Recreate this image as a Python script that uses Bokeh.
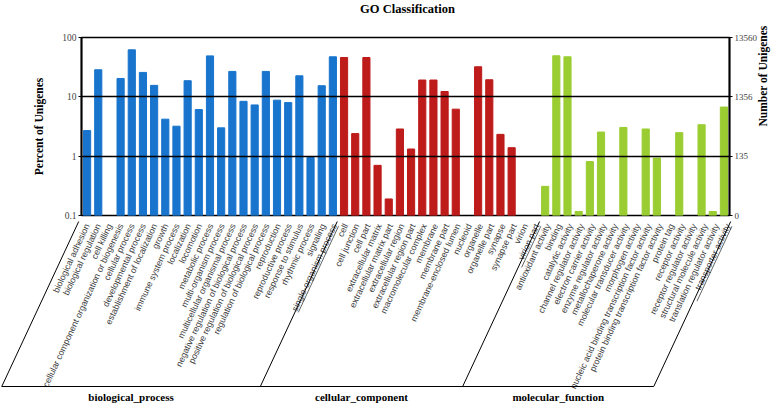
import math
from bokeh.plotting import figure
from bokeh.models import Range1d, LogAxis, FixedTicker, ColumnDataSource
from bokeh.core.properties import value
from bokeh.embed import file_html
from bokeh.resources import INLINE

# ---------------- data ----------------
title_text = "GO Classification"

bp_terms = ["biological adhesion", "biological regulation", "cell killing",
            "cellular component organization or biogenesis", "cellular process",
            "developmental process", "establishment of localization", "growth",
            "immune system process", "localization", "locomotion", "metabolic process",
            "multi-organism process", "multicellular organismal process",
            "negative regulation of biological process",
            "positive regulation of biological process",
            "regulation of biological process", "reproduction", "reproductive process",
            "response to stimulus", "rhythmic process", "signaling",
            "single-organism process"]
bp_values = [2.7, 28.6, 0, 20.4, 62.0, 25.8, 15.6, 4.2, 3.2, 18.7, 6.1, 49.0,
             3.0, 26.8, 8.4, 7.3, 26.8, 8.8, 8.0, 22.6, 0.95, 15.4, 47.3]

cc_terms = ["cell", "cell junction", "cell part", "extracellular matrix",
            "extracellular matrix part", "extracellular region",
            "extracellular region part", "macromolecular complex", "membrane",
            "membrane part", "membrane-enclosed lumen", "nucleoid", "organelle",
            "organelle part", "synapse", "synapse part", "virion", "virion part"]
cc_values = [46.0, 2.4, 46.0, 0.70, 0.19, 2.87, 1.32, 19.2, 19.2, 12.3, 6.2, 0,
             32.1, 19.4, 2.33, 1.39, 0, 0]

mf_terms = ["antioxidant activity", "binding", "catalytic activity",
            "channel regulator activity", "electron carrier activity",
            "enzyme regulator activity", "metallochaperone activity",
            "molecular transducer activity", "morphogen activity",
            "nucleic acid binding transcription factor activity",
            "protein binding transcription factor activity", "protein tag",
            "receptor activity", "receptor regulator activity",
            "structural molecule activity", "translation regulator activity",
            "transporter activity"]
mf_values = [0.31, 49.2, 47.3, 0.117, 0.81, 2.55, 0, 3.05, 0, 2.87, 0.93, 0,
             2.49, 0, 3.39, 0.117, 6.73]

group_names = ["biological_process", "cellular_component", "molecular_function"]
group_colors = ["#1874CD", "#BE1B1B", "#9ACD32"]

left_ticks = [0.1, 1, 10, 100]
left_labels = ["0.1", "1", "10", "100"]
right_labels = ["0", "135", "1356", "13560"]
grid_ticks = [1, 10]

# ---------------- layout constants ----------------
W = 778
TITLE_H = 20
TOP_H = 201
BOT_H = 182
FL, FR = 81, 733            # frame left / right
FT, FB = 37, 215            # frame top / bottom (page px)
ANGLE = 65.0                # label / bracket slant in degrees
AXIS_Y = FB - TITLE_H - TOP_H   # x axis line relative to the lower figure top
BRACKET_Y = 165             # bottom line of the brackets
LABEL_PX = 8.8              # category label font size

serif = "Liberation Serif"
sans = "Liberation Sans"

groups = [bp_terms, cc_terms, mf_terms]
gvals = [bp_values, cc_values, mf_values]
terms, vals, cols = [], [], []
for t, v, c in zip(groups, gvals, group_colors):
    terms += t
    vals += v
    cols += [c] * len(t)
n = len(terms)
xs = [i + 0.5 for i in range(n)]

bars = ColumnDataSource(dict(
    x=[x for x, v in zip(xs, vals) if v > 0],
    top=[v for v in vals if v > 0],
    color=[c for c, v in zip(cols, vals) if v > 0],
))


def bare(width, height, x_range, y_range):
    f = figure(width=width, height=height, x_range=x_range, y_range=y_range,
               x_axis_location=None, y_axis_location=None, output_backend="svg",
               toolbar_location=None, min_border_left=0, min_border_right=0,
               min_border_top=0, min_border_bottom=0)
    f.grid.visible = False
    f.outline_line_color = None
    f.background_fill_color = "white"
    f.border_fill_color = "white"
    return f


# ---------------- title strip ----------------
t = bare(W, TITLE_H, Range1d(0, W), Range1d(TITLE_H, 0))
t.text(x=[(FL + FR) / 2], y=[8.5], text=[title_text], text_align="center",
       text_baseline="middle", text_font=value(serif), text_font_style="bold",
       text_font_size="12.5px", text_color="black")

# ---------------- top figure: bars ----------------
p = figure(width=W, height=TOP_H, x_range=Range1d(0, n), y_range=Range1d(0.1, 100),
           y_axis_type="log", x_axis_location=None, output_backend="svg",
           toolbar_location=None, min_border_left=FL, min_border_right=W - FR,
           min_border_top=FT - TITLE_H, min_border_bottom=TITLE_H + TOP_H - FB)
p.vbar(x="x", top="top", bottom=0.1, width=0.64, color="color", source=bars)
p.xgrid.visible = False
p.ygrid.ticker = FixedTicker(ticks=grid_ticks)
p.ygrid.grid_line_color = "black"
p.ygrid.grid_line_width = 1.6
p.ygrid.level = "overlay"
p.outline_line_color = "black"
p.outline_line_width = 1.6
p.background_fill_color = "white"
p.border_fill_color = "white"

ya = p.yaxis[0]
ya.ticker = FixedTicker(ticks=left_ticks)
ya.major_label_overrides = {tk: l for tk, l in zip(left_ticks, left_labels)}
ya.axis_label = "Percent of Unigenes"

ra = LogAxis(ticker=FixedTicker(ticks=left_ticks),
             major_label_overrides={tk: l for tk, l in zip(left_ticks, right_labels)},
             axis_label="Number of Unigenes")
p.add_layout(ra, "right")
if "axis_label_orientation" in LogAxis.properties():
    ra.axis_label_orientation = math.pi / 2

for ax in [ya, ra]:
    ax.axis_line_width = 1.8
    ax.axis_line_color = "black"
    ax.major_tick_out = 3
    ax.major_tick_in = 0
    ax.major_tick_line_color = "black"
    ax.major_tick_line_width = 1.2
    ax.minor_tick_out = 0
    ax.minor_tick_in = 0
    ax.major_label_text_font = serif
    ax.major_label_text_font_size = "9.5px"
    ax.major_label_text_color = "#444444"
    ax.major_label_standoff = 2
    ax.axis_label_text_font = serif
    ax.axis_label_text_font_style = "bold"
    ax.axis_label_text_font_size = "11.5px"
    ax.axis_label_text_color = "black"
ya.axis_label_standoff = 14
ra.axis_label_standoff = 3
ra.major_label_text_font_size = "9px"

# ---------------- bottom figure: labels and brackets ----------------
unit = (FR - FL) / n
sin_a = math.sin(math.radians(ANGLE))
cos_a = math.cos(math.radians(ANGLE))
slant = (BRACKET_Y - AXIS_Y) * cos_a / sin_a / unit

q = bare(W, BOT_H, Range1d(-FL / unit, n + (W - FR) / unit), Range1d(BOT_H, 0))

lab_y = 2.8
lab = ColumnDataSource(dict(x=xs, y=[lab_y] * n, text=terms))
q.text(x="x", y="y", text="text", source=lab, angle=ANGLE, angle_units="deg",
       text_align="right", text_baseline="middle", text_font=value(sans),
       text_font_size=f"{LABEL_PX}px", text_color="#3c3c3c")

bounds = [0]
for g in groups:
    bounds.append(bounds[-1] + len(g))

# underline of the last term of every group (as in the source figure)
last = [b - 1 for b in bounds[1:]]
ux0, uy0, ux1, uy1 = [], [], [], []
for i in last:
    L = len(terms[i]) * LABEL_PX * 0.47
    off = 4.5
    ax0 = xs[i] + off * sin_a / unit
    ay0 = lab_y + off * cos_a
    ux0.append(ax0)
    uy0.append(ay0)
    ux1.append(ax0 - L * cos_a / unit)
    uy1.append(ay0 + L * sin_a)
q.segment(x0=ux0, y0=uy0, x1=ux1, y1=uy1, line_color="#3c3c3c", line_width=0.8)

q.segment(x0=bounds, y0=[AXIS_Y] * len(bounds), x1=[b - slant for b in bounds],
          y1=[BRACKET_Y] * len(bounds), line_color="black", line_width=1)
q.segment(x0=[bounds[0] - slant], y0=[BRACKET_Y], x1=[bounds[-1] - slant],
          y1=[BRACKET_Y], line_color="black", line_width=1)

gx = [(bounds[i] + bounds[i + 1]) / 2 - slant for i in range(len(groups))]
q.text(x=gx, y=[BRACKET_Y + 10] * len(groups), text=group_names,
       text_align="center", text_baseline="middle", text_font=value(serif),
       text_font_style="bold", text_font_size="11px", text_color="black")

open("out.html", "w").write(file_html([t, p, q], INLINE))
